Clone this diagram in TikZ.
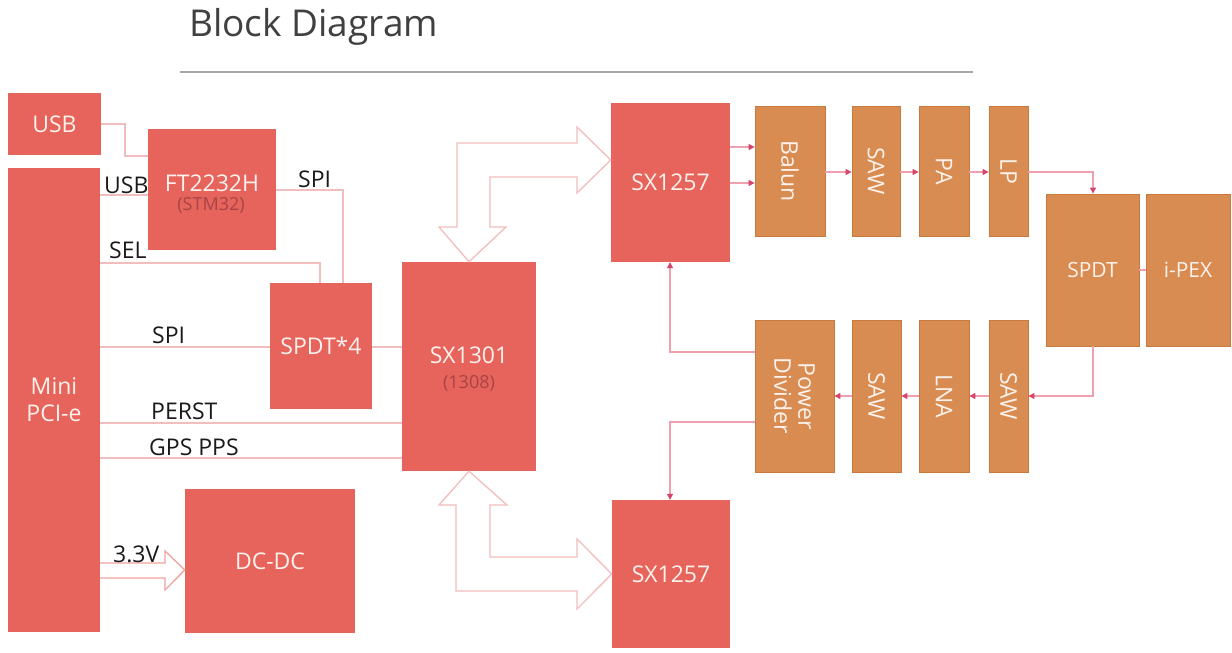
\documentclass[tikz,border=0pt]{standalone}
\usepackage{fontspec}
\setmainfont{Open Sans}
\usetikzlibrary{arrows.meta}
\definecolor{redbox}{HTML}{E6645C}
\definecolor{orbox}{HTML}{D98C52}
\definecolor{orline}{HTML}{C9783E}
\definecolor{boxtxt}{HTML}{FFF2EC}
\definecolor{subtxt}{HTML}{A94446}
\definecolor{wire}{HTML}{F2BDBD}
\definecolor{rfwire}{HTML}{EFA0AE}
\definecolor{tipcol}{HTML}{D84468}
\definecolor{titlecol}{HTML}{404040}
\definecolor{rulecol}{HTML}{A8A8A8}
\definecolor{labcol}{HTML}{1A1A1A}
\tikzset{
  rbox/.style={fill=redbox, draw=none, inner sep=0pt, text=boxtxt, align=center,
    font=\fontsize{23}{27}\selectfont},
  obox/.style={fill=orbox, draw=orline, line width=0.8pt, inner sep=0pt, text=boxtxt, align=center,
    font=\fontsize{21}{23}\selectfont},
  vtxt/.style={rotate=-90, text=boxtxt, align=center, font=\fontsize{23}{24}\selectfont},
  sig/.style={draw=wire, line width=1.4pt},
  siglabel/.style={text=labcol, font=\fontsize{23}{26}\selectfont, inner sep=0pt},
  rf/.style={draw=rfwire, line width=1.1pt, -{Triangle[length=6pt,width=6pt,color=tipcol]}},
  rfplain/.style={draw=rfwire, line width=1.1pt},
  barrow/.style={draw=wire, fill=white, line width=1.3pt, line join=miter},
  sub/.style={text=subtxt, font=\fontsize{18}{20}\selectfont}
}
\begin{document}
\begin{tikzpicture}[x=1pt, y=-1pt]
\useasboundingbox (0,0) rectangle (1232,653);
% title
\node[anchor=west, text=titlecol, font=\fontsize{37}{42}\selectfont, inner sep=0pt] (title) at (189,27) {Block Diagram};
\coordinate (ruleL) at (180,72);
\coordinate (ruleR) at (973,72);
\draw[rulecol, line width=1.2pt] (ruleL) -- (ruleR);

% red boxes
\node[rbox, minimum width=93pt, minimum height=62pt] (usb) at (54.5,124) {USB};
\node[rbox, minimum width=92pt, minimum height=464pt] (mpci) at (54,400) {Mini\\PCI-e};
\node[rbox, minimum width=128pt, minimum height=121pt] (ft) at (212,189.5) {};
\node[text=boxtxt, font=\fontsize{23}{27}\selectfont, inner sep=0pt] (fttxt) at (212,183) {FT2232H};
\node[sub, inner sep=0pt] (ftsub) at (211,205) {(STM32)};
\node[rbox, minimum width=102pt, minimum height=126pt] (spdt4) at (321,346) {SPDT*4};
\node[rbox, minimum width=134pt, minimum height=209pt] (sx1301) at (469,366.5) {};
\node[text=boxtxt, font=\fontsize{23}{27}\selectfont, inner sep=0pt] (sxtxt) at (469,355) {SX1301};
\node[sub, inner sep=0pt] (sxsub) at (469,383) {(1308)};
\node[rbox, minimum width=119pt, minimum height=159pt] (sxa) at (670.5,182.5) {SX1257};
\node[rbox, minimum width=118pt, minimum height=148pt] (sxb) at (671,574) {SX1257};
\node[rbox, minimum width=170pt, minimum height=144pt] (dcdc) at (270,561) {DC-DC};

% orange boxes, top row
\node[obox, minimum width=70pt, minimum height=130pt] (balun) at (790,171) {};
\node[vtxt] at (balun.center) {Balun};
\node[obox, minimum width=48pt, minimum height=130pt] (sawa) at (876,171) {};
\node[vtxt] at (sawa.center) {SAW};
\node[obox, minimum width=50pt, minimum height=130pt] (pa) at (944,171) {};
\node[vtxt] at (pa.center) {PA};
\node[obox, minimum width=39pt, minimum height=130pt] (lp) at (1008.5,171) {};
\node[vtxt] at (lp.center) {LP};
\node[obox, minimum width=93pt, minimum height=152pt] (spdt) at (1092.5,270) {SPDT};
\node[obox, minimum width=84pt, minimum height=152pt] (ipex) at (1188,270) {i-PEX};
% bottom row
\node[obox, minimum width=79pt, minimum height=152pt] (pd) at (794.5,396) {};
\node[vtxt] at (pd.center) {Power\\Divider};
\node[obox, minimum width=49pt, minimum height=152pt] (sawb) at (876.5,396) {};
\node[vtxt] at (sawb.center) {SAW};
\node[obox, minimum width=50pt, minimum height=152pt] (lna) at (944,396) {};
\node[vtxt] at (lna.center) {LNA};
\node[obox, minimum width=39pt, minimum height=152pt] (sawc) at (1008.5,396) {};
\node[vtxt] at (sawc.center) {SAW};

% digital signals
\draw[sig] (usb.east |- 0,124) -- (125,124) -- (125,156) -- (ft.west |- 0,156);
\draw[sig] (mpci.east |- 0,195) -- (ft.west |- 0,195);
\node[siglabel, anchor=south west] (lusb) at (104,194) {USB};
\draw[sig] (ft.east |- 0,190) -- (343,190) -- (spdt4.north -| 343,0);
\node[siglabel, anchor=south west] (lspi1) at (298,188) {SPI};
\draw[sig] (mpci.east |- 0,263) -- (320,263) -- (spdt4.north -| 320,0);
\node[siglabel, anchor=south west] (lsel) at (109,259) {SEL};
\draw[sig] (mpci.east |- 0,347) -- (spdt4.west |- 0,347);
\node[siglabel, anchor=south west] (lspi2) at (152,344) {SPI};
\draw[sig] (spdt4.east |- 0,347) -- (sx1301.west |- 0,347);
\draw[sig] (mpci.east |- 0,423) -- (sx1301.west |- 0,423);
\node[siglabel, anchor=south west] (lperst) at (151,420) {PERST};
\draw[sig] (mpci.east |- 0,458) -- (sx1301.west |- 0,458);
\node[siglabel, anchor=south west] (lgps) at (149,456) {GPS PPS};

% 3.3V block arrow
\draw[barrow, draw=redbox!60] (mpci.east |- 0,563) -- (165,563) -- (165,551) -- (dcdc.west |- 0,570)
  -- (165,590) -- (165,578) -- (mpci.east |- 0,578);
\node[siglabel, anchor=south west] (l33) at (113,563) {3.3V};

% bus block arrows
\draw[barrow] (sx1301.north) -- (439,227) -- (457,227) -- (457,143) -- (577,143) -- (577,127)
  -- (sxa.west |- 0,160) -- (577,193) -- (577,177) -- (490,177) -- (490,227) -- (506,227) -- cycle;
\draw[barrow] (sx1301.south) -- (507,505) -- (490,505) -- (490,557) -- (577,557) -- (577,539)
  -- (sxb.west |- 0,574) -- (577,609) -- (577,591) -- (456,591) -- (456,505) -- (439,505) -- cycle;

% RF chain
\draw[rf] (sxa.east |- 0,147) -- (balun.west |- 0,147);
\draw[rf] (sxa.east |- 0,183) -- (balun.west |- 0,183);
\draw[rf] (balun.east |- 0,172) -- (sawa.west |- 0,172);
\draw[rf] (sawa.east |- 0,172) -- (pa.west |- 0,172);
\draw[rf] (pa.east |- 0,172) -- (lp.west |- 0,172);
\draw[rf] (lp.east |- 0,172) -- (1093,172) -- (spdt.north -| 1093,0);
\draw[rfplain] (spdt.east) -- (ipex.west);
\draw[rf] (spdt.south -| 1093,0) -- (1093,396) -- (sawc.east |- 0,396);
\draw[rf] (sawc.west |- 0,396) -- (lna.east |- 0,396);
\draw[rf] (lna.west |- 0,396) -- (sawb.east |- 0,396);
\draw[rf] (sawb.west |- 0,396) -- (pd.east |- 0,396);
\draw[rf] (pd.west |- 0,352) -- (670,352) -- (sxa.south -| 670,0);
\draw[rf] (pd.west |- 0,422) -- (670,422) -- (sxb.north -| 670,0);
\end{tikzpicture}
\end{document}
